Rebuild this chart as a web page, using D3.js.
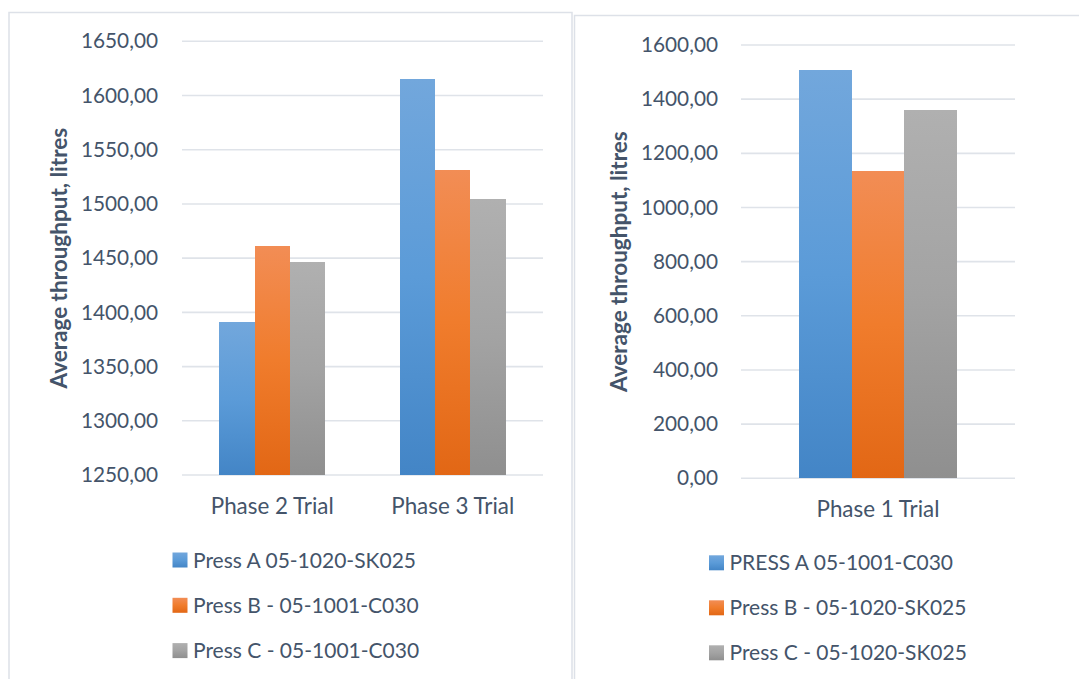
<!DOCTYPE html>
<html>
<head>
<meta charset="utf-8">
<script src="https://cdn.jsdelivr.net/npm/d3@7"></script>
<style>
  html, body { margin: 0; padding: 0; background: #ffffff; }
  svg { display: block; }
  text { font-family: Lato, "Open Sans", sans-serif; fill: #44546a; }
</style>
</head>
<body>
<svg id="chart" width="1079" height="679"></svg>
<script>
// Left chart: phase 2 and phase 3 trials
const leftCategories = ["Phase 2 Trial", "Phase 3 Trial"];
const leftSeriesNames = ["Press A 05-1020-SK025", "Press B - 05-1001-C030", "Press C - 05-1001-C030"];
const leftPressA = [1390.7, 1615.0];
const leftPressB = [1461.4, 1531.5];
const leftPressC = [1446.3, 1504.6];
const leftTicks = [1250, 1300, 1350, 1400, 1450, 1500, 1550, 1600, 1650];

// Right chart: phase 1 trial
const rightCategories = ["Phase 1 Trial"];
const rightSeriesNames = ["PRESS A 05-1001-C030", "Press B - 05-1020-SK025", "Press C - 05-1020-SK025"];
const rightPressA = [1507];
const rightPressB = [1136];
const rightPressC = [1360];
const rightTicks = [0, 200, 400, 600, 800, 1000, 1200, 1400, 1600];

const yTitle = "Average throughput, litres";

const fmt = d3.formatLocale({ decimal: ",", thousands: "", grouping: [3], currency: ["", ""] }).format(".2f");

const svg = d3.select("#chart");
const defs = svg.append("defs");

// Vertical gradient fills, lighter at the top of each bar
const fills = [
  { id: "gBlue",   stops: ["#72a7dc", "#5b9bd8", "#4385c6"] },
  { id: "gOrange", stops: ["#f28d55", "#f07c2c", "#e26715"] },
  { id: "gGray",   stops: ["#b0b0b0", "#a3a3a3", "#8f8f8f"] }
];
fills.forEach(f => {
  const g = defs.append("linearGradient").attr("id", f.id)
    .attr("x1", 0).attr("y1", 0).attr("x2", 0).attr("y2", 1);
  g.append("stop").attr("offset", "0%").attr("stop-color", f.stops[0]);
  g.append("stop").attr("offset", "50%").attr("stop-color", f.stops[1]);
  g.append("stop").attr("offset", "100%").attr("stop-color", f.stops[2]);
});

function drawPanel(cfg) {
  const g = svg.append("g");

  // chart frame
  g.append("rect")
    .attr("x", cfg.frame[0]).attr("y", cfg.frame[1])
    .attr("width", cfg.frame[2]).attr("height", cfg.frame[3])
    .attr("fill", "#ffffff").attr("stroke", "#dde1e8").attr("stroke-width", 1.5);

  const y = d3.scaleLinear().domain(cfg.domain).range([cfg.plotBottom, cfg.plotTop]);
  const x0 = d3.scaleBand().domain(cfg.categories).range([cfg.plotLeft, cfg.plotRight])
    .paddingInner(0).paddingOuter(0);
  const groupWidth = x0.bandwidth() * cfg.groupFrac;
  const x1 = d3.scaleBand().domain(d3.range(cfg.series.length)).range([0, groupWidth]).padding(0);

  // gridlines
  g.append("g").selectAll("line").data(cfg.ticks).join("line")
    .attr("x1", cfg.plotLeft).attr("x2", cfg.plotRight)
    .attr("y1", d => y(d)).attr("y2", d => y(d))
    .attr("stroke", "#dfe3e9").attr("stroke-width", 1.6);

  // value axis labels
  const axis = d3.axisLeft(y).tickValues(cfg.ticks).tickFormat(fmt).tickSize(0).tickPadding(0);
  const ax = g.append("g").attr("transform", `translate(${cfg.labelRight},0)`).call(axis);
  ax.select(".domain").remove();
  ax.selectAll("text")
    .style("font-size", cfg.tickSize + "px")
    .style("fill", "#44546a")
    .style("font-family", "Lato, 'Open Sans', sans-serif");

  // bars
  const cats = g.append("g").selectAll("g").data(cfg.categories).join("g")
    .attr("transform", c => `translate(${x0(c) + (x0.bandwidth() - groupWidth) / 2},0)`);
  cats.selectAll("rect")
    .data((c, ci) => cfg.series.map((s, si) => ({ si, v: s.values[ci] })))
    .join("rect")
    .attr("x", d => x1(d.si))
    .attr("width", x1.bandwidth())
    .attr("y", d => y(d.v))
    .attr("height", d => y(cfg.domain[0]) - y(d.v))
    .attr("shape-rendering", "crispEdges")
    .attr("fill", d => `url(#${fills[d.si].id})`);

  // category axis labels
  const catAxis = d3.axisBottom(x0).tickSize(0).tickPadding(0);
  const cx = g.append("g").attr("transform", `translate(0,${cfg.catBaseline})`).call(catAxis);
  cx.select(".domain").remove();
  cx.selectAll("text")
    .attr("dy", 0).attr("y", 0)
    .style("font-size", cfg.catSize + "px")
    .style("fill", "#44546a")
    .style("font-family", "Lato, 'Open Sans', sans-serif");

  // value axis title
  g.append("text")
    .attr("transform", `translate(${cfg.titleX},${(cfg.plotTop + cfg.plotBottom) / 2}) rotate(-90)`)
    .attr("text-anchor", "middle").attr("dy", "0.35em")
    .style("font-size", cfg.titleSize + "px").style("font-weight", "bold")
    .text(yTitle);

  // legend
  const lg = g.append("g").selectAll("g").data(cfg.series).join("g")
    .attr("transform", (s, i) => `translate(${cfg.legendX},${cfg.legendY + i * cfg.legendStep})`);
  lg.append("rect").attr("x", 0).attr("y", -7.5).attr("width", 15).attr("height", 15)
    .attr("fill", (s, i) => `url(#${fills[i].id})`);
  lg.append("text").attr("x", 20.5).attr("dy", "0.36em")
    .style("font-size", cfg.legendSize + "px")
    .text(s => s.name);
}

drawPanel({
  frame: [9, 12.5, 563, 700],
  categories: leftCategories,
  series: [
    { name: leftSeriesNames[0], values: leftPressA },
    { name: leftSeriesNames[1], values: leftPressB },
    { name: leftSeriesNames[2], values: leftPressC }
  ],
  domain: [1250, 1650],
  ticks: leftTicks,
  plotLeft: 182, plotRight: 543, plotTop: 41.3, plotBottom: 475,
  groupFrac: 0.587,
  labelRight: 158, tickSize: 20.8,
  catBaseline: 513.5, catSize: 22.4,
  titleX: 59.5, titleSize: 22.5,
  legendX: 172.5, legendY: 560, legendStep: 45.3, legendSize: 21
});

drawPanel({
  frame: [574.5, 15.5, 520, 700],
  categories: rightCategories,
  series: [
    { name: rightSeriesNames[0], values: rightPressA },
    { name: rightSeriesNames[1], values: rightPressB },
    { name: rightSeriesNames[2], values: rightPressC }
  ],
  domain: [0, 1600],
  ticks: rightTicks,
  plotLeft: 741, plotRight: 1015, plotTop: 45, plotBottom: 478.3,
  groupFrac: 0.579,
  labelRight: 718, tickSize: 20.8,
  catBaseline: 516.7, catSize: 22.4,
  titleX: 619.5, titleSize: 22.5,
  legendX: 709, legendY: 562.8, legendStep: 45, legendSize: 21
});
</script>
</body>
</html>
